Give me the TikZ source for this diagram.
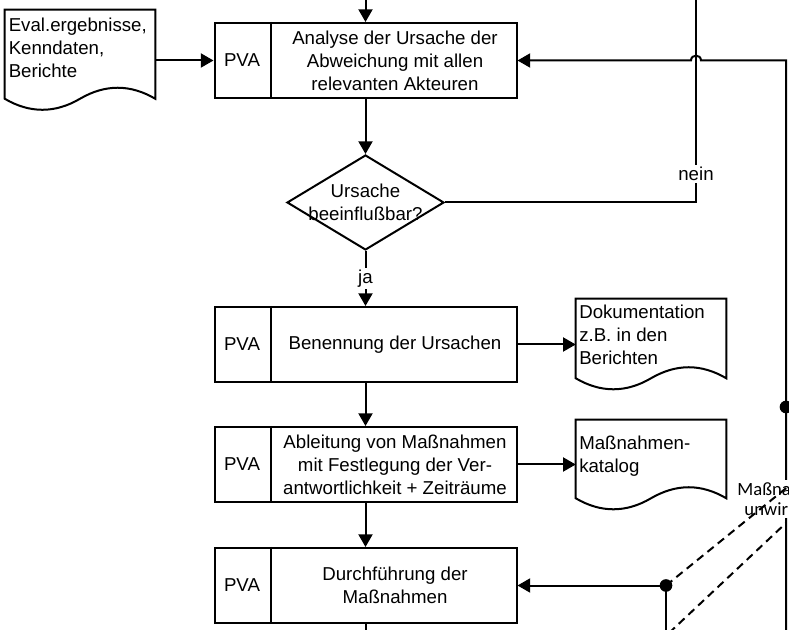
\documentclass[tikz,border=0pt]{standalone}
\usepackage{fontspec}
\setmainfont{Liberation Sans}
\newfontfamily\lblfont{Carlito}
\usetikzlibrary{arrows.meta,shapes.geometric,calc}

\newcommand\pvabox[3]{%
  \node[procbox] (#1) at (365.5,#2) {};
  \draw[line] ($(#1.north west)+(57,0)$) -- ($(#1.south west)+(57,0)$);
  \node[txt] (#1p) at ($(#1.west)+(28.5,0)$) {PVA};
  \node[txt] (#1t) at ($(#1.east)+(-122.5,0)$) {#3};
}
\newcommand\docwave[1]{%
  \draw[line] (#1.south west) -- (#1.north west) -- (#1.north east) -- (#1.south east)
    .. controls ($(#1.south east)+(-25,-14.7)$) and ($(#1.south east)+(-50,-14.7)$) .. (#1.south)
    .. controls ($(#1.south)+(-25,14.7)$) and ($(#1.south west)+(25,14.7)$) .. cycle;
}

\begin{document}
\begin{tikzpicture}[x=0.75pt,y=-0.75pt,
  every node/.style={font=\fontsize{14}{17.25}\selectfont},
  line/.style={line width=1.5pt, line join=miter},
  arr/.style={line, -{Triangle[length=9.5pt,width=10.5pt]}},
  procbox/.style={draw, line width=1.5pt, minimum width=226.5pt, minimum height=56.25pt, inner sep=0pt},
  txt/.style={align=center, inner sep=0pt},
  doctxt/.style={align=left, inner sep=0pt, anchor=north west},
  docarea/.style={minimum width=112.5pt, inner sep=0pt},
  dec/.style={diamond, draw, line width=1.5pt, minimum width=117.75pt, minimum height=71.25pt, inner sep=0pt},
  lbl/.style={fill=white, inner sep=1.5pt},
  dotnode/.style={circle, fill, inner sep=0pt, minimum size=9.5pt},
  dashline/.style={line, dash pattern=on 6pt off 4pt}
]
\useasboundingbox (0,0) rectangle (789,630);
\clip (0,0) rectangle (789,630);
\fill[white] (0,0) rectangle (789,630);

% coordinates for free ends
\coordinate (top1) at (365.5,-5);
\coordinate (top2) at (696,-5);
\coordinate (turnN) at (696,202.5);
\coordinate (rbot) at (786,640);
\coordinate (rtop) at (786,60.5);
\coordinate (hopR) at (701,60.5);
\coordinate (hopL) at (691,60.5);
\coordinate (bot1) at (365.5,640);
\coordinate (bot2) at (666,640);
\coordinate (de1) at (806,472);
\coordinate (ds2a) at (669,633);
\coordinate (ds2b) at (786,523);

% process boxes
\pvabox{b1}{60.5}{Analyse der Ursache der\\Abweichung mit allen\\relevanten Akteuren}
\pvabox{b2}{344.5}{Benennung der Ursachen}
\pvabox{b3}{464.5}{Ableitung von Maßnahmen\\mit Festlegung der Ver-\\antwortlichkeit + Zeiträume}
\pvabox{b4}{585.5}{Durchführung der\\Maßnahmen}

% decision
\node[dec] (d) at (365.5,202.5) {};
\node[txt] (dt) at (365.5,202) {Ursache\\beeinflußbar?};

% documents
\node[docarea, minimum height=66.375pt] (doc1) at (80,54.25) {};
\docwave{doc1}
\node[doctxt] (doc1t) at (8.5,18) {Eval.ergebnisse,\\Kenndaten,\\Berichte};
\node[docarea, minimum height=59.25pt] (doc2) at (651,338.5) {};
\docwave{doc2}
\node[doctxt] (doc2t) at (579,305) {Dokumentation\\z.B. in den\\Berichten};
\node[docarea, minimum height=58.5pt] (doc3) at (651,459) {};
\docwave{doc3}
\node[doctxt] (doc3t) at (579,436) {Maßnahmen-\\katalog};

% connectors
\draw[arr] (top1) -- (b1.north);
\draw[arr] (doc1.east |- b1.west) -- (b1.west);
\draw[arr] (b1.south) -- (d.north);
\draw[arr] (d.south) -- node[lbl] (ja) {ja} (b2.north);
\draw[line] (d.east) -- (turnN) -- (top2);
\node[lbl] (nein) at (696,174) {nein};
\draw[arr] (rbot) -- (rtop) -- (hopR) .. controls (701,54) and (691,54) .. (hopL) -- (b1.east);
\draw[arr] (b2.east) -- (doc2.west |- b2.east);
\draw[arr] (b2.south) -- (b3.north);
\draw[arr] (b3.east) -- (doc3.west |- b3.east);
\draw[arr] (b3.south) -- (b4.north);
\draw[line] (b4.south) -- (bot1);
\node[dotnode] (dot2) at (666,585.5) {};
\node[dotnode] (dot1) at (786,407) {};
\draw[arr] (bot2) -- (dot2.center) -- (b4.east);

\node[lbl, align=center, font=\lblfont\fontsize{14}{15}\selectfont] (unw) at (786,499) {Maßnahmen\\unwirksam};
\draw[dashline] (dot2.center) -- (de1);
\draw[dashline] (ds2a) -- (ds2b);
\end{tikzpicture}
\end{document}
